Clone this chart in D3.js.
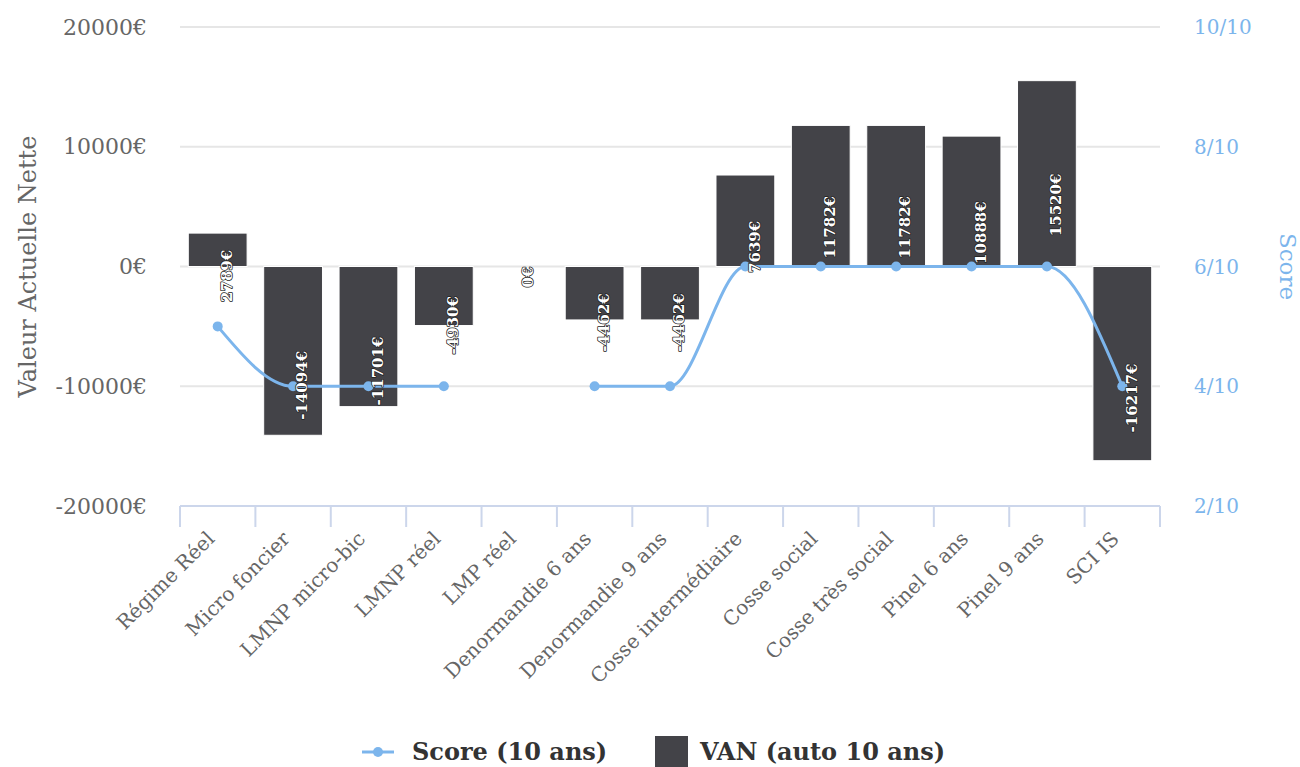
<!DOCTYPE html>
<html>
<head>
<meta charset="utf-8">
<script src="https://cdn.jsdelivr.net/npm/d3@7"></script>
<style>
  body { margin: 0; background: #fff; }
  svg { font-family: "DejaVu Serif", serif; }
</style>
</head>
<body>
<div id="chart"></div>
<script>
"use strict";
// data
var categories = ["Régime Réel", "Micro foncier", "LMNP micro-bic", "LMNP réel", "LMP réel",
    "Denormandie 6 ans", "Denormandie 9 ans", "Cosse intermédiaire", "Cosse social",
    "Cosse très social", "Pinel 6 ans", "Pinel 9 ans", "SCI IS"];
var vanValues = [2789, -14094, -11701, -4930, 0, -4462, -4462, 7639, 11782, 11782, 10888, 15520, -16217];
var scoreValues = [5, 4, 4, 4, null, 4, 4, 6, 6, 6, 6, 6, 4];
var leftTicks = [-20000, -10000, 0, 10000, 20000];
var rightTicks = [2, 4, 6, 8, 10];

function drawChart() {
    var w = 1300, h = 767;
    var left = 180, right = 1160, top = 27, bottom = 506;
    var blue = "#7cb5ec", dark = "#434348", grey = "#666666";

    var svg = d3.select("#chart").append("svg")
        .attr("width", w)
        .attr("height", h);

    var x = d3.scaleBand()
        .domain(categories)
        .range([left, right])
        .paddingInner(0.22)
        .paddingOuter(0.11);

    var y = d3.scaleLinear().domain([-20000, 20000]).range([bottom, top]);
    var y2 = d3.scaleLinear().domain([2, 10]).range([bottom, top]);

    // gridlines
    svg.append("g").selectAll("line")
        .data(leftTicks.filter(function(t) { return t > -20000; }))
        .enter().append("line")
        .attr("x1", left).attr("x2", right)
        .attr("y1", function(d) { return y(d); })
        .attr("y2", function(d) { return y(d); })
        .attr("stroke", "#e6e6e6")
        .attr("stroke-width", 2);

    // left tick labels
    svg.append("g").selectAll("text")
        .data(leftTicks)
        .enter().append("text")
        .attr("x", 147)
        .attr("y", function(d) { return y(d); })
        .attr("dy", "0.35em")
        .attr("text-anchor", "end")
        .attr("fill", grey)
        .style("font-size", "22px")
        .text(function(d) { return d + "€"; });

    // right tick labels
    svg.append("g").selectAll("text")
        .data(rightTicks)
        .enter().append("text")
        .attr("x", 1194)
        .attr("y", function(d) { return y2(d); })
        .attr("dy", "0.35em")
        .attr("fill", blue)
        .style("font-size", "20px")
        .text(function(d) { return d + "/10"; });

    // axis titles
    svg.append("text")
        .attr("transform", "translate(36," + y(0) + ") rotate(-90)")
        .attr("text-anchor", "middle")
        .attr("fill", grey)
        .style("font-size", "24px")
        .text("Valeur Actuelle Nette");

    svg.append("text")
        .attr("transform", "translate(1280," + y(0) + ") rotate(90)")
        .attr("text-anchor", "middle")
        .attr("fill", blue)
        .style("font-size", "23px")
        .text("Score");

    // bars
    svg.append("g").selectAll("rect")
        .data(vanValues)
        .enter().append("rect")
        .attr("x", function(d, i) { return x(categories[i]); })
        .attr("width", x.bandwidth())
        .attr("y", function(d) { return Math.min(y(d), y(0)); })
        .attr("height", function(d) { return Math.abs(y(d) - y(0)); })
        .attr("fill", dark)
        .attr("stroke", "#fff")
        .attr("stroke-width", 1);

    // x axis line and ticks
    var axis = svg.append("g").attr("transform", "translate(0," + bottom + ")");
    axis.append("line")
        .attr("x1", left).attr("x2", right)
        .attr("stroke", "#ccd6eb").attr("stroke-width", 2);
    var edges = categories.map(function(c) { return x(c) - x.step() * 0.11; });
    edges.push(right);
    axis.selectAll(".tick")
        .data(edges)
        .enter().append("line")
        .attr("x1", function(d) { return d; })
        .attr("x2", function(d) { return d; })
        .attr("y1", 0).attr("y2", 21)
        .attr("stroke", "#ccd6eb").attr("stroke-width", 2);

    axis.selectAll("text")
        .data(categories)
        .enter().append("text")
        .attr("transform", function(d) {
            return "translate(" + (x(d) + x.bandwidth() / 2 - 2) + ",34) rotate(-45)";
        })
        .attr("text-anchor", "end")
        .attr("fill", grey)
        .style("font-size", "20px")
        .text(function(d) { return d; });

    // score line
    var line = d3.line()
        .defined(function(d) { return d !== null; })
        .x(function(d, i) { return x(categories[i]) + x.bandwidth() / 2; })
        .y(function(d) { return y2(d); })
        .curve(d3.curveMonotoneX);

    svg.append("path")
        .datum(scoreValues)
        .attr("d", line)
        .attr("fill", "none")
        .attr("stroke", blue)
        .attr("stroke-width", 3);

    svg.append("g").selectAll("circle")
        .data(scoreValues.map(function(d, i) { return {v: d, c: categories[i]}; })
            .filter(function(d) { return d.v !== null; }))
        .enter().append("circle")
        .attr("cx", function(d) { return x(d.c) + x.bandwidth() / 2; })
        .attr("cy", function(d) { return y2(d.v); })
        .attr("r", 5)
        .attr("fill", blue);

    // data labels on bars
    svg.append("g").selectAll("text")
        .data(vanValues)
        .enter().append("text")
        .attr("transform", function(d, i) {
            var cx = x(categories[i]) + x.bandwidth() / 2 + 9;
            var mid = (y(d) + y(0)) / 2;
            return "translate(" + cx + "," + mid + ") rotate(-90)";
        })
        .attr("text-anchor", "end")
        .attr("dy", "0.35em")
        .attr("fill", "#fff")
        .attr("stroke", "#222")
        .attr("stroke-width", 1.5)
        .attr("stroke-linejoin", "round")
        .style("paint-order", "stroke")
        .style("font-size", "15px")
        .style("font-weight", "bold")
        .text(function(d) { return d + "€"; });

    // legend
    var legend = svg.append("g").attr("transform", "translate(0,752)");
    legend.append("line")
        .attr("x1", 362).attr("x2", 394)
        .attr("stroke", blue).attr("stroke-width", 3);
    legend.append("circle")
        .attr("cx", 378).attr("r", 5).attr("fill", blue);
    legend.append("text")
        .attr("x", 412).attr("dy", "0.35em")
        .attr("fill", "#333")
        .style("font-size", "24px")
        .style("font-weight", "bold")
        .text("Score (10 ans)");
    legend.append("rect")
        .attr("x", 655).attr("y", -16)
        .attr("width", 33).attr("height", 33)
        .attr("fill", dark);
    legend.append("text")
        .attr("x", 700).attr("dy", "0.35em")
        .attr("fill", "#333")
        .style("font-size", "24px")
        .style("font-weight", "bold")
        .text("VAN (auto 10 ans)");
}

window.addEventListener("load", function() {
    drawChart();
});
</script>
</body>
</html>
